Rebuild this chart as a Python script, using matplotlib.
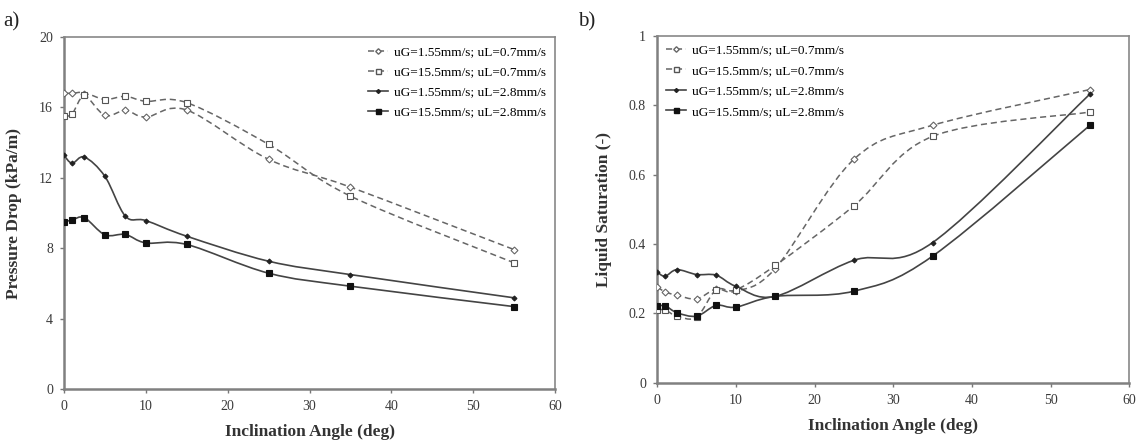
import numpy as np
import matplotlib
matplotlib.use("Agg")
import matplotlib.pyplot as plt
from matplotlib.path import Path
from matplotlib.patches import PathPatch
from matplotlib.lines import Line2D

plt.rcParams['font.family'] = ['Liberation Serif', 'DejaVu Serif']

angle = [0, 1, 2.5, 5, 7.5, 10, 15, 25, 35, 55]

labels = ["uG=1.55mm/s; uL=0.7mm/s", "uG=15.5mm/s; uL=0.7mm/s",
          "uG=1.55mm/s; uL=2.8mm/s", "uG=15.5mm/s; uL=2.8mm/s"]

# pressure drop (kPa/m)
dp_g155_l07 = [16.8, 16.8, 16.75, 15.55, 15.83, 15.45, 15.85, 13.05, 11.47, 7.92]
dp_g15_l07 = [15.5, 15.64, 16.72, 16.45, 16.63, 16.35, 16.27, 13.9, 10.96, 7.17]
dp_g155_l28 = [13.27, 12.83, 13.18, 12.08, 9.82, 9.57, 8.68, 7.26, 6.5, 5.18]
dp_g15_l28 = [9.48, 9.61, 9.73, 8.76, 8.78, 8.3, 8.21, 6.58, 5.84, 4.68]

# liquid saturation (-)
ls_g155_l07 = [0.276, 0.262, 0.252, 0.242, 0.27, 0.264, 0.329, 0.644, 0.742, 0.845]
ls_g15_l07 = [0.209, 0.21, 0.192, 0.189, 0.268, 0.268, 0.338, 0.51, 0.71, 0.78]
ls_g155_l28 = [0.319, 0.307, 0.326, 0.312, 0.31, 0.278, 0.249, 0.353, 0.404, 0.832]
ls_g15_l28 = [0.22, 0.222, 0.202, 0.192, 0.223, 0.218, 0.249, 0.264, 0.365, 0.742]

styles = [
    dict(ls=(0, (4, 2.5)), color='#666666', lw=1.1, marker='D', ms=3.5, mfc='white', mec='#666666'),
    dict(ls=(0, (4, 2.5)), color='#666666', lw=1.1, marker='s', ms=4.5, mfc='white', mec='#555555'),
    dict(ls='-', color='#444444', lw=1.2, marker='D', ms=2.5, mfc='#222222', mec='#222222'),
    dict(ls='-', color='#444444', lw=1.2, marker='s', ms=4.5, mfc='#111111', mec='#111111'),
]


def smooth_curve(ax, x, y, st):
    # Excel-style smoothed line drawn as cubic Bezier segments through the points
    x = np.asarray(x, float)
    y = np.asarray(y, float)
    n = len(x)
    verts = [(x[0], y[0])]
    codes = [Path.MOVETO]
    for i in range(n - 1):
        x0, y0 = (x[i - 1], y[i - 1]) if i > 0 else (x[i], y[i])
        x3, y3 = (x[i + 2], y[i + 2]) if i + 2 < n else (x[i + 1], y[i + 1])
        c1 = (x[i] + (x[i + 1] - x0) / 6, y[i] + (y[i + 1] - y0) / 6)
        c2 = (x[i + 1] - (x3 - x[i]) / 6, y[i + 1] - (y3 - y[i]) / 6)
        verts += [c1, c2, (x[i + 1], y[i + 1])]
        codes += [Path.CURVE4] * 3
    ax.add_patch(PathPatch(Path(verts, codes), fill=False, edgecolor=st['color'],
                           lw=st['lw'], ls=st['ls']))
    ax.plot(x, y, ls='none', marker=st['marker'], ms=st['ms'], mfc=st['mfc'],
            mec=st['mec'], mew=0.8, zorder=3)


def style_axes(ax):
    for s in ['left', 'bottom']:
        ax.spines[s].set_color('#808080')
        ax.spines[s].set_linewidth(1.8)
    for s in ['top', 'right']:
        ax.spines[s].set_color('#888888')
        ax.spines[s].set_linewidth(1.2)
    ax.tick_params(direction='out', length=3, width=1, color='#777777',
                   labelsize=10, labelcolor='#3a3a3a', pad=5)
    ax.set_xlabel('Inclination Angle (deg)', fontsize=12.5, fontweight='bold',
                  color='#333333', labelpad=8)


def legend_handles():
    return [Line2D([], [], ls=st['ls'], color=st['color'], lw=st['lw'],
                   marker=st['marker'], ms=st['ms'] * 0.8, mfc=st['mfc'],
                   mec=st['mec']) for st in styles]


fig = plt.figure(figsize=(11.43, 4.41), dpi=100)
ax1 = fig.add_axes([0.056, 0.118, 0.4296, 0.798])
ax2 = fig.add_axes([0.575, 0.132, 0.413, 0.787])

for y, st in zip([dp_g155_l07, dp_g15_l07, dp_g155_l28, dp_g15_l28], styles):
    smooth_curve(ax1, angle, y, st)
ax1.set_xlim(0, 60)
ax1.set_ylim(0, 20)
ax1.set_xticks(range(0, 61, 10))
ax1.set_yticks(range(0, 21, 4))
style_axes(ax1)
ax1.set_ylabel('Pressure Drop (kPa/m)', fontsize=12.5, fontweight='bold',
               color='#333333', labelpad=12)
ax1.legend(legend_handles(), labels, loc='upper right', frameon=False,
           fontsize=9.5, handlelength=1.5, handletextpad=0.45, labelspacing=0.58,
           borderaxespad=0.3)

for y, st in zip([ls_g155_l07, ls_g15_l07, ls_g155_l28, ls_g15_l28], styles):
    smooth_curve(ax2, angle, y, st)
ax2.set_xlim(0, 60)
ax2.set_ylim(0, 1)
ax2.set_xticks(range(0, 61, 10))
ax2.set_yticks([0, 0.2, 0.4, 0.6, 0.8, 1])
ax2.set_yticklabels(['0', '0.2', '0.4', '0.6', '0.8', '1'])
style_axes(ax2)
ax2.set_ylabel('Liquid Saturation (-)', fontsize=12.5, fontweight='bold',
               color='#333333', labelpad=12)
ax2.legend(legend_handles(), labels, loc='upper left', frameon=False,
           fontsize=9.5, handlelength=1.5, handletextpad=0.45, labelspacing=0.62,
           borderaxespad=0.25)

fig.text(0.003, 0.94, 'a)', fontsize=15, color='#222222')
fig.text(0.506, 0.94, 'b)', fontsize=15, color='#222222')

fig.savefig('out.png', dpi=100)
